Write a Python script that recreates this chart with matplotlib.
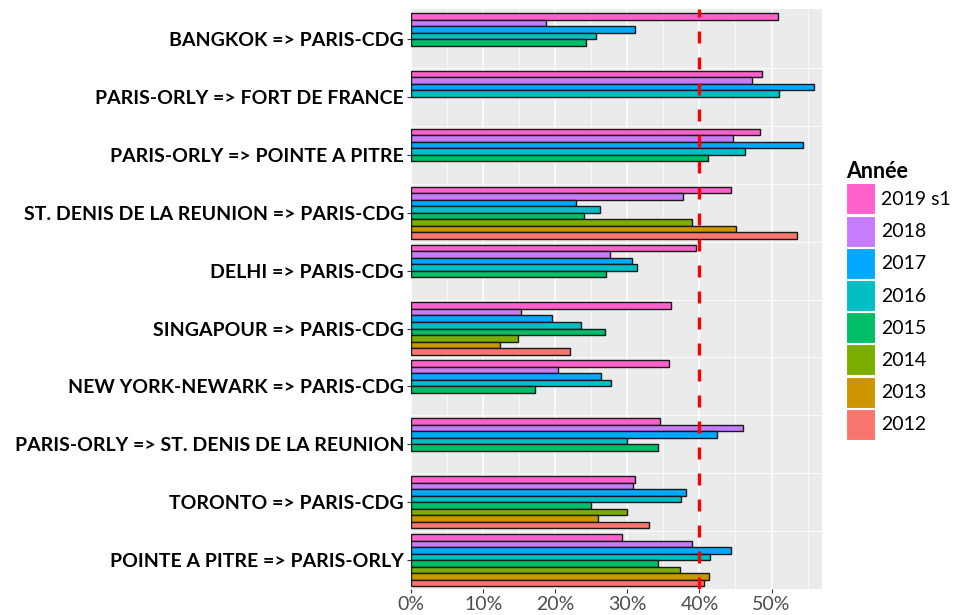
import numpy as np
import matplotlib
matplotlib.use("Agg")
import matplotlib.pyplot as plt
from matplotlib.patches import Patch

nan = np.nan

# routes, top to bottom
routes = [
    "BANGKOK => PARIS-CDG",
    "PARIS-ORLY => FORT DE FRANCE",
    "PARIS-ORLY => POINTE A PITRE",
    "ST. DENIS DE LA REUNION => PARIS-CDG",
    "DELHI => PARIS-CDG",
    "SINGAPOUR => PARIS-CDG",
    "NEW YORK-NEWARK => PARIS-CDG",
    "PARIS-ORLY => ST. DENIS DE LA REUNION",
    "TORONTO => PARIS-CDG",
    "POINTE A PITRE => PARIS-ORLY",
]

years = ["2019 s1", "2018", "2017", "2016", "2015", "2014", "2013", "2012"]
colors = ["#FF61CC", "#C77CFF", "#00A9FF", "#00BFC4",
          "#00BE67", "#7CAE00", "#CD9600", "#F8766D"]

# values in %, one list per year (nan = no data)
v2019 = [50.9, 48.7, 48.4, 44.4, 39.5, 36.0, 35.8, 34.6, 31.1, 29.3]
v2018 = [18.7, 47.3, 44.7, 37.7, 27.6, 15.2, 20.4, 46.1, 30.8, 39.0]
v2017 = [31.1, 55.9, 54.4, 22.9, 30.6, 19.5, 26.4, 42.5, 38.2, 44.4]
v2016 = [25.6, 51.1, 46.3, 26.2, 31.4, 23.6, 27.7, 29.9, 37.4, 41.5]
v2015 = [24.3, nan, 41.2, 24.0, 27.1, 26.9, 17.2, 34.3, 25.0, 34.3]
v2014 = [nan, nan, nan, 39.0, nan, 14.8, nan, nan, 30.0, 37.3]
v2013 = [nan, nan, nan, 45.1, nan, 12.3, nan, nan, 25.9, 41.3]
v2012 = [nan, nan, nan, 53.5, nan, 22.0, nan, nan, 33.0, 40.6]
series = [v2019, v2018, v2017, v2016, v2015, v2014, v2013, v2012]

threshold = 40

plt.rcParams['font.family'] = ['Lato', 'DejaVu Sans']

fig = plt.figure(figsize=(9.55, 6.15), dpi=100)
ax = fig.add_axes([0.4304, 0.0423, 0.4303, 0.9431])
ax.set_facecolor("#EBEBEB")

# gridlines (ggplot-like)
for x in np.arange(0, 60, 10):
    ax.axvline(x, color="white", lw=1.1, zorder=0)
for x in np.arange(5, 60, 10):
    ax.axvline(x, color="white", lw=0.5, zorder=0)
for i in range(len(routes) - 1):
    ax.axhline(i + 0.5, color="white", lw=0.6, zorder=0)

pos = np.arange(len(routes))
bw = 0.9 / len(years)
for j, (vals, c) in enumerate(zip(series, colors)):
    y = pos - 0.45 + bw * (j + 0.5)
    ax.barh(y, vals, height=bw, color=c, edgecolor="#1a1a1a", linewidth=1.0, zorder=2)

ax.axvline(threshold, color="#FF0000", lw=2.4, dashes=(3.6, 4.2), zorder=3)

ax.set_xlim(0, 57)
ax.set_ylim(len(routes) - 0.5, -0.52)
ax.set_yticks(pos)
ax.set_yticklabels(routes, fontsize=14, fontweight="bold", color="black")
ax.set_xticks(np.arange(0, 60, 10))
ax.set_xticklabels([f"{x}%" for x in range(0, 60, 10)], fontsize=14, color="#4D4D4D")
ax.tick_params(axis="both", length=3, width=0.8, color="#333333", pad=2)
for s in ax.spines.values():
    s.set_visible(False)

handles = [Patch(facecolor=c, edgecolor="white", linewidth=0.8) for c in colors]
leg = fig.legend(handles, years, loc="upper left", bbox_to_anchor=(0.886, 0.738),
                 title="Année", fontsize=14, title_fontproperties={"weight": "bold", "size": 15.5},
                 frameon=False, handlelength=1.5, handleheight=2.08,
                 labelspacing=0.06, handletextpad=0.3, borderaxespad=0, borderpad=0,
                 alignment="left")

fig.savefig("out.png", dpi=100)
